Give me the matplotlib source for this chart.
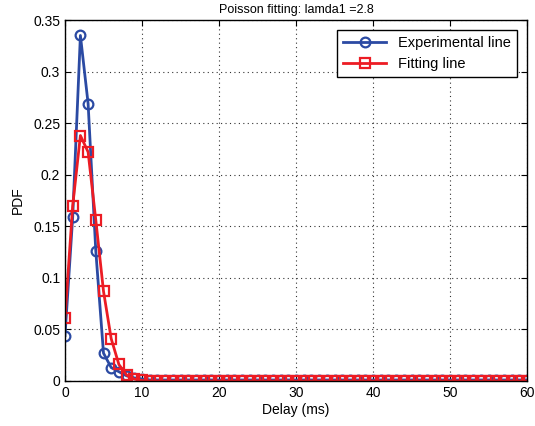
import numpy as np
import matplotlib
matplotlib.use("Agg")
import matplotlib.pyplot as plt
from matplotlib.ticker import FuncFormatter

plt.rcParams['font.family'] = ['Liberation Sans', 'DejaVu Sans']

# delay values (ms)
delay = np.arange(0, 61)

# experimental PDF
exp_head = [0.044, 0.159, 0.335, 0.269, 0.126, 0.027, 0.013, 0.009, 0.005, 0.003, 0.002]
exp_tail = [0.001] * 50
experimental = np.array(exp_head + exp_tail)

# fitted poisson PDF (lamda = 2.8)
fit_head = [0.061, 0.170, 0.238, 0.222, 0.156, 0.087, 0.041, 0.016, 0.0057, 0.0018, 0.0005]
fit_tail = [0.0] * 50
fitting = np.array(fit_head + fit_tail)

fig = plt.figure(figsize=(5.35, 4.26), dpi=100)
ax = fig.add_axes([65/535, 45/426, 462/535, 361/426])

ax.plot(delay, experimental, '-o', color='#2b4aa3', lw=2, ms=7,
        mfc='none', mew=1.6, label='Experimental line')
ax.plot(delay, fitting, '-s', color='#ec1c24', lw=2, ms=7,
        mfc='none', mew=1.6, label='Fitting line')

ax.set_xlim(0, 60)
ax.set_ylim(0, 0.35)
ax.set_xticks(np.arange(0, 61, 10))
ax.set_yticks(np.arange(0, 0.36, 0.05))
ax.yaxis.set_major_formatter(FuncFormatter(lambda v, p: '%g' % round(v, 2)))
ax.tick_params(direction='in', labelsize=10, top=True, right=True, length=4)
ax.grid(True, linestyle=(0, (1, 3)), color='#333333', lw=0.8)
for s in ax.spines.values():
    s.set_linewidth(1.0)

ax.set_xlabel('Delay (ms)', fontsize=10, labelpad=2)
ax.set_ylabel('PDF', fontsize=10, labelpad=6)
ax.set_title('Poisson fitting: lamda1 =2.8', fontsize=9, pad=5)

leg = ax.legend(loc='upper right', fontsize=10.5, fancybox=False, framealpha=1,
                edgecolor='black', borderaxespad=0.7, handlelength=3)
leg.get_frame().set_linewidth(1.0)

fig.savefig('out.png', dpi=100)
